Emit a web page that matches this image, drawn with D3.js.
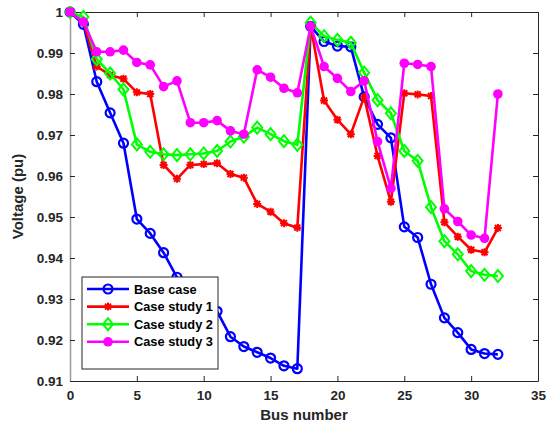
<!DOCTYPE html>
<html>
<head>
<meta charset="utf-8">
<script src="https://cdn.jsdelivr.net/npm/d3@7"></script>
<style>
  body { margin: 0; background: #fff; }
  svg { font-family: Arial, "Liberation Sans", sans-serif; }
  .tick text { font-weight: bold; font-size: 13.5px; fill: #262626; }
</style>
</head>
<body>
<div id="vis"></div>
<script>
// Bus numbers 0..32
const buses = d3.range(0, 33);

// Voltage profiles
const baseCase = [1.0, 0.997, 0.983, 0.9754, 0.968, 0.9495, 0.946, 0.9413, 0.9353, 0.932, 0.929, 0.927,
  0.9208, 0.9184, 0.917, 0.9156, 0.9137, 0.913, 0.9965, 0.9928, 0.9917, 0.9915, 0.9793, 0.9726,
  0.9693, 0.9476, 0.945, 0.9336, 0.9254, 0.9218, 0.9177, 0.9167, 0.9165];
const case1 = [1.0, 0.9976, 0.9867, 0.9846, 0.9837, 0.9804, 0.980, 0.9627, 0.9593, 0.9627, 0.9629, 0.9631,
  0.9605, 0.9596, 0.9532, 0.9513, 0.9485, 0.9474, 0.9965, 0.9784, 0.9737, 0.9702, 0.9793, 0.9649,
  0.9537, 0.9802, 0.9799, 0.9795, 0.9487, 0.9452, 0.942, 0.9414, 0.9473];
const case2 = [1.0, 0.9988, 0.9885, 0.985, 0.9811, 0.9677, 0.9659, 0.9653, 0.9651, 0.9653, 0.9655, 0.9661,
  0.9684, 0.9696, 0.9718, 0.9702, 0.9685, 0.9676, 0.9974, 0.9941, 0.9932, 0.9925, 0.9852, 0.9785,
  0.9753, 0.9661, 0.9637, 0.9524, 0.9441, 0.9409, 0.9368, 0.9359, 0.9356];
const case3 = [1.0, 0.9976, 0.9903, 0.9903, 0.9907, 0.9877, 0.9871, 0.9818, 0.9832, 0.973, 0.973, 0.9735,
  0.971, 0.9702, 0.9859, 0.9841, 0.9814, 0.9803, 0.9965, 0.9867, 0.9838, 0.9806, 0.9832, 0.9684,
  0.957, 0.9875, 0.9872, 0.9867, 0.952, 0.9489, 0.9456, 0.9448, 0.980];

const seriesNames = ["Base case", "Case study 1", "Case study 2", "Case study 3"];
const seriesColors = ["#0000ff", "#ff0000", "#00ff00", "#ff00ff"];
const seriesMarkers = ["circle", "star", "diamond", "dot"];
const seriesValues = [baseCase, case1, case2, case3];

const xTicks = [0, 5, 10, 15, 20, 25, 30, 35];
const yTicks = [0.91, 0.92, 0.93, 0.94, 0.95, 0.96, 0.97, 0.98, 0.99, 1];

const W = 550, H = 426;
const margin = { top: 12, right: 12, bottom: 45, left: 70 };
const width = W - margin.left - margin.right;
const height = H - margin.top - margin.bottom;
const axisColor = "#262626";

const svg = d3.select("#vis").append("svg")
  .attr("width", W).attr("height", H);
const g = svg.append("g")
  .attr("transform", `translate(${margin.left},${margin.top})`);

const xScale = d3.scaleLinear().domain([0, 35]).range([0, width]);
const yScale = d3.scaleLinear().domain([0.91, 1]).range([height, 0]);

// axes, ticks drawn inward like MATLAB
const fmtY = d => d === 1 ? "1" : d3.format(".2f")(d);
g.append("g").attr("transform", `translate(0,${height})`)
  .call(d3.axisBottom(xScale).tickValues(xTicks).tickSizeInner(-5).tickSizeOuter(0).tickPadding(9));
const yAx = g.append("g")
  .call(d3.axisLeft(yScale).tickValues(yTicks).tickFormat(fmtY).tickSizeInner(-5).tickSizeOuter(0).tickPadding(7));
g.append("g")
  .call(d3.axisTop(xScale).tickValues(xTicks).tickFormat("").tickSizeInner(-5).tickSizeOuter(0));
g.append("g").attr("transform", `translate(${width},0)`)
  .call(d3.axisRight(yScale).tickValues(yTicks).tickFormat("").tickSizeInner(-5).tickSizeOuter(0));
g.selectAll(".domain, .tick line").attr("stroke", axisColor);
yAx.select(".domain").attr("stroke", "#9a9a9a").attr("stroke-width", 1.5);

// clip lines to plot area (with a little room for markers)
svg.append("clipPath").attr("id", "clip")
  .append("rect").attr("x", -6).attr("y", -6)
  .attr("width", width + 6).attr("height", height + 6);

const line = d3.line().x((d, i) => xScale(buses[i])).y(d => yScale(d));

function drawMarker(sel, type, color) {
  if (type === "circle") {
    sel.append("circle").attr("r", 4.5).attr("fill", "none")
      .attr("stroke", color).attr("stroke-width", 2.2);
  } else if (type === "dot") {
    sel.append("circle").attr("r", 4.8).attr("fill", color);
  } else if (type === "diamond") {
    sel.append("path").attr("d", "M0,-6L5,0L0,6L-5,0Z").attr("fill", "none")
      .attr("stroke", color).attr("stroke-width", 2);
  } else if (type === "star") {
    sel.append("path").attr("d", "M-4,0H4M0,-4V4M-3,-3L3,3M-3,3L3,-3")
      .attr("stroke", color).attr("stroke-width", 2);
  }
}

const plot = g.append("g").attr("clip-path", "url(#clip)");
seriesValues.forEach((vals, k) => {
  plot.append("path").datum(vals)
    .attr("fill", "none").attr("stroke", seriesColors[k])
    .attr("stroke-width", 2.6).attr("stroke-linejoin", "round")
    .attr("d", line);
  plot.selectAll(null).data(vals).enter().append("g")
    .attr("transform", (d, i) => `translate(${xScale(buses[i])},${yScale(d)})`)
    .each(function () { drawMarker(d3.select(this), seriesMarkers[k], seriesColors[k]); });
});

// axis labels
svg.append("text")
  .attr("x", margin.left + width / 2).attr("y", 420)
  .attr("text-anchor", "middle").attr("font-weight", "bold").attr("font-size", 15)
  .attr("fill", axisColor).text("Bus number");
svg.append("text")
  .attr("transform", `translate(23,${margin.top + height / 2}) rotate(-90)`)
  .attr("text-anchor", "middle").attr("font-weight", "bold").attr("font-size", 15)
  .attr("fill", axisColor).text("Voltage (pu)");

// legend
const legend = svg.append("g").attr("transform", "translate(82,277)");
legend.append("rect").attr("width", 136).attr("height", 92)
  .attr("fill", "#fff").attr("stroke", axisColor).attr("stroke-width", 1);
seriesNames.forEach((name, k) => {
  const row = legend.append("g").attr("transform", `translate(0,${12 + k * 17.6})`);
  row.append("line").attr("x1", 5).attr("x2", 47)
    .attr("stroke", seriesColors[k]).attr("stroke-width", 2.6);
  drawMarker(row.append("g").attr("transform", "translate(26,0)"), seriesMarkers[k], seriesColors[k]);
  row.append("text").attr("x", 52).attr("y", 4.5)
    .attr("font-weight", "bold").attr("font-size", 12.8).attr("fill", "#000").text(name);
});
</script>
</body>
</html>
